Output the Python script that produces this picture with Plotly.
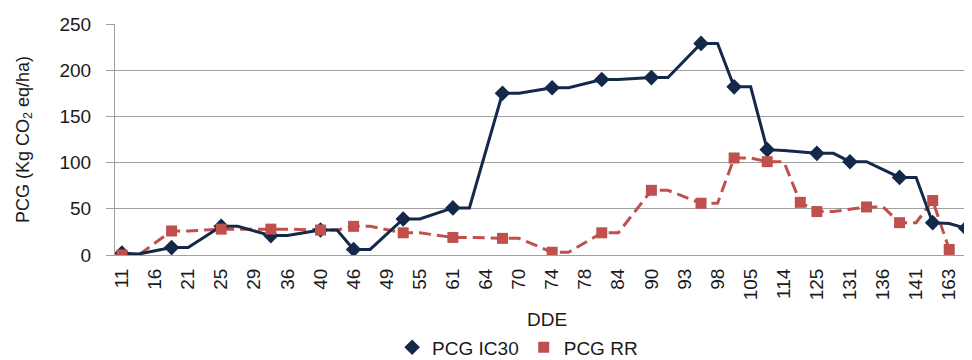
import plotly.graph_objects as go

# x-axis tick labels (DDE), one label every two category steps
dde_labels = ["11", "16", "21", "25", "29", "36", "40", "46", "49", "55", "61", "64", "70",
              "74", "78", "84", "90", "93", "98", "105", "114", "125", "131", "136", "141", "163"]

# PCG IC30: marked points (category step position, value)
ic30_pos = [0, 3, 6, 9, 12, 14, 17, 20, 23, 26, 29, 32, 35, 37, 39, 42, 44, 47, 49, 51, 52]
ic30_val = [2, 8, 31, 21, 27, 6, 39, 51, 175, 181, 190, 192, 229, 182, 114, 110, 101, 84, 35, 29, 1]
# PCG IC30: unmarked line points
ic30_hold_pos = [1, 4, 7, 10, 13, 15, 18, 21, 24, 27, 30, 33, 36, 38, 40, 43, 45, 48, 50]
ic30_hold_val = [1, 8, 31, 21, 27, 6, 39, 51, 175, 181, 190, 192, 229, 182, 113, 110, 101, 84, 34]

# PCG RR: marked points
rr_pos = [0, 3, 6, 9, 12, 14, 17, 20, 23, 26, 29, 32, 35, 37, 39, 41, 42, 45, 47, 49, 50]
rr_val = [0, 26, 28, 28, 27, 31, 24, 19, 18, 3, 24, 70, 56, 105, 101, 57, 47, 52, 35, 59, 6]
# PCG RR: unmarked line points
rr_hold_pos = [1, 4, 7, 10, 13, 15, 18, 21, 24, 27, 30, 33, 36, 38, 40, 43, 46, 48]
rr_hold_val = [0, 26, 28, 28, 27, 31, 24, 19, 18, 3, 24, 70, 56, 105, 101, 47, 52, 35]

NAVY = "#14284A"
RED = "#C0504D"
FONT = "Liberation Sans, Arial, sans-serif"


def merged(p1, v1, p2, v2):
    pts = sorted(zip(p1 + p2, v1 + v2))
    return [p for p, _ in pts], [v for _, v in pts]


ic30_lx, ic30_ly = merged(ic30_pos, ic30_val, ic30_hold_pos, ic30_hold_val)
rr_lx, rr_ly = merged(rr_pos, rr_val, rr_hold_pos, rr_hold_val)

fig = go.Figure()
fig.add_trace(go.Scatter(x=rr_lx, y=rr_ly, mode="lines", showlegend=False,
                         line=dict(color=RED, width=3, dash="12px,6px")))
fig.add_trace(go.Scatter(x=ic30_lx, y=ic30_ly, mode="lines", showlegend=False,
                         line=dict(color=NAVY, width=3)))
fig.add_trace(go.Scatter(x=ic30_pos, y=ic30_val, mode="markers", name="PCG IC30",
                         marker=dict(symbol="diamond", size=12, color=NAVY)))
fig.add_trace(go.Scatter(x=rr_pos, y=rr_val, mode="markers", name="PCG RR",
                         marker=dict(symbol="square", size=11, color=RED)))

tick_pos = [2 * i for i in range(len(dde_labels))]

fig.update_layout(
    width=972, height=360,
    margin=dict(l=107, r=1, t=16, b=107),
    paper_bgcolor="white", plot_bgcolor="white",
    font=dict(family=FONT, size=19, color="#1a1a1a"),
    legend=dict(orientation="h", x=0.466, xanchor="center", y=-0.40, yanchor="middle",
                font=dict(size=19), itemwidth=30, traceorder="normal"),
    xaxis=dict(
        range=[-0.42, 51.8], tickmode="array", tickvals=tick_pos, ticktext=dde_labels,
        tickangle=-90, showgrid=False, zeroline=False, showline=True,
        linecolor="#A0A0A0", linewidth=1, ticks="", ticklabelstandoff=5,
        title=dict(text="DDE", font=dict(size=19), standoff=13),
    ),
    yaxis=dict(
        range=[0, 250], tickvals=[0, 50, 100, 150, 200, 250], showgrid=True,
        gridcolor="#A0A0A0", gridwidth=1, zeroline=False, showline=True,
        linecolor="#A0A0A0", linewidth=1, ticks="outside", ticklen=8, tickcolor="#A0A0A0",
        ticklabelstandoff=11,
        title=dict(text="PCG (Kg CO<sub>2</sub> eq/ha)", font=dict(size=18), standoff=25),
    ),
)

fig.write_html("out.html")
